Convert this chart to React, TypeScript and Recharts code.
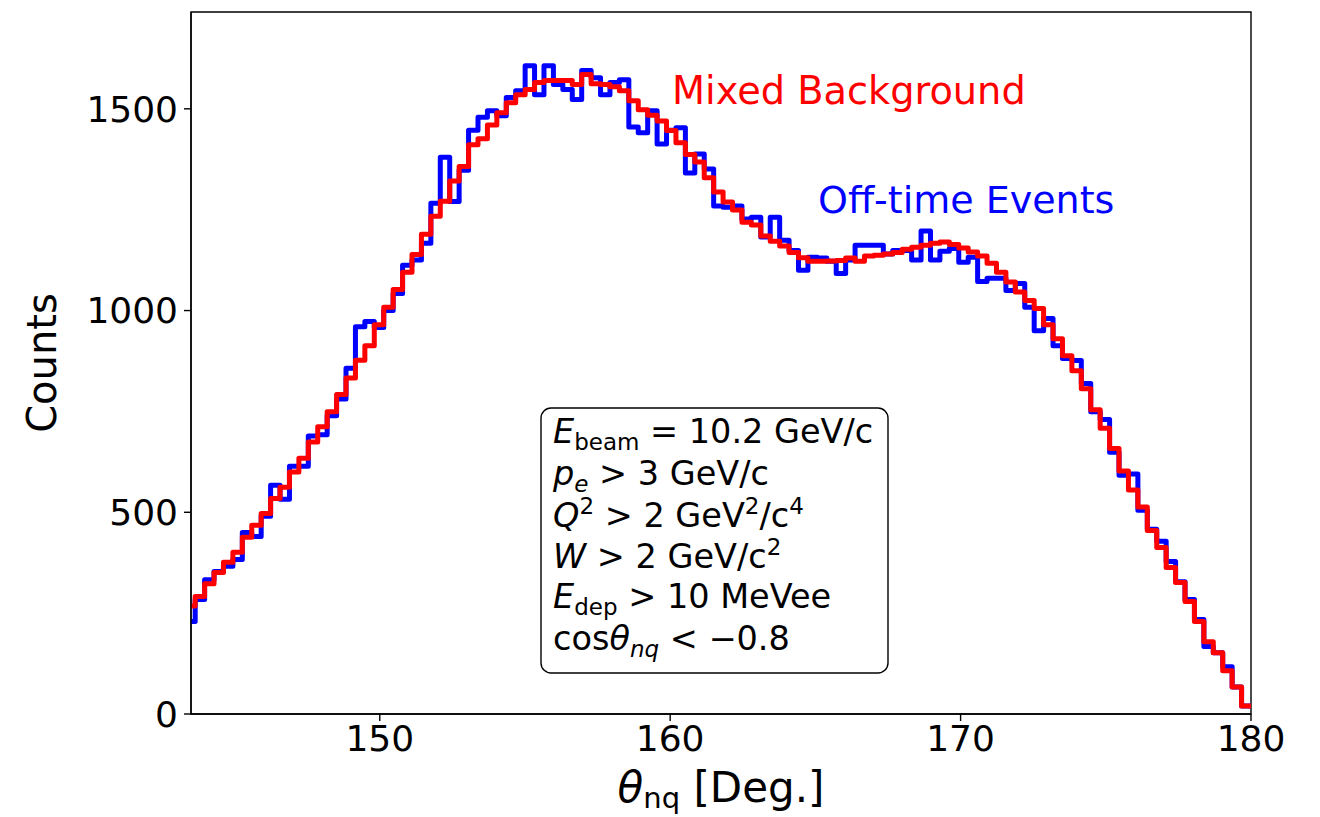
import React from "react";
import { LineChart, Line, XAxis, YAxis, ReferenceArea, Label } from "recharts";

// histogram binning: 112 full bins ending at 180 deg, plus one partial bin cut by the axis
const BIN_LO = 143.644;
const BIN_HI = 180;
const N_FULL_BINS = 112;

// counts per bin (first entry is the partial bin at the left edge)
const mixedBackground = [
  268, 291, 323, 351, 376, 401, 438, 468, 497, 534,
  562, 600, 634, 674, 712, 749, 792, 833, 877, 913,
  965, 1008, 1052, 1095, 1139, 1189, 1234, 1271, 1321, 1357,
  1411, 1426, 1460, 1490, 1515, 1535, 1548, 1565, 1570, 1570,
  1570, 1560, 1585, 1562, 1560, 1555, 1545, 1520, 1498, 1484,
  1470, 1446, 1416, 1387, 1368, 1329, 1294, 1269, 1249, 1219,
  1212, 1185, 1172, 1160, 1144, 1131, 1122, 1122, 1123, 1124,
  1130, 1122, 1135, 1137, 1140, 1144, 1152, 1157, 1162, 1167,
  1170, 1164, 1155, 1145, 1135, 1117, 1095, 1071, 1046, 1025,
  1005, 965, 930, 888, 851, 806, 754, 708, 658, 602,
  555, 513, 455, 413, 363, 326, 279, 229, 179, 152,
  107, 67, 20,
];

const offTimeEvents = [
  229, 284, 333, 353, 366, 383, 450, 440, 490, 567,
  532, 614, 614, 689, 692, 739, 781, 857, 960, 973,
  958, 1000, 1042, 1112, 1125, 1167, 1266, 1380, 1270, 1348,
  1447, 1479, 1495, 1483, 1528, 1545, 1607, 1535, 1607, 1560,
  1548, 1523, 1595, 1577, 1535, 1565, 1572, 1455, 1441, 1495,
  1413, 1447, 1453, 1341, 1388, 1351, 1259, 1256, 1259, 1227,
  1231, 1182, 1231, 1174, 1149, 1100, 1132, 1130, 1122, 1092,
  1125, 1162, 1162, 1162, 1140, 1149, 1149, 1125, 1197, 1125,
  1147, 1154, 1120, 1132, 1072, 1080, 1080, 1050, 1067, 1008,
  950, 980, 913, 881, 876, 819, 749, 730, 649, 592,
  595, 505, 458, 428, 378, 328, 284, 234, 167, 152,
  117, 67, 20,
];

const xTicks = [150, 160, 170, 180];
const yTicks = [0, 500, 1000, 1500];

const binW = (BIN_HI - BIN_LO) / N_FULL_BINS;
const data = mixedBackground.map((m, i) => ({
  x: BIN_LO + (i - 1) * binW,
  mixed: m,
  offtime: offTimeEvents[i],
}));
// closing point so the last step reaches 180
data.push({
  x: BIN_HI,
  mixed: mixedBackground[mixedBackground.length - 1],
  offtime: offTimeEvents[offTimeEvents.length - 1],
});

const FONT = "'DejaVu Sans', sans-serif";

function XTitle({ viewBox }: any) {
  const cx = viewBox.x + viewBox.width / 2;
  return (
    <text x={cx} y={viewBox.y + 88} textAnchor="middle" fontSize={42} fontFamily={FONT} fill="#000">
      <tspan fontStyle="italic">θ</tspan>
      <tspan fontSize={29} dy={6}>nq</tspan>
      <tspan dy={-6}> [Deg.]</tspan>
    </text>
  );
}

function YTitle({ viewBox }: any) {
  const cy = viewBox.y + viewBox.height / 2;
  return (
    <text
      x={56}
      y={cy}
      transform={`rotate(-90 56 ${cy})`}
      textAnchor="middle"
      fontSize={40}
      fontFamily={FONT}
      fill="#000"
    >
      Counts
    </text>
  );
}

function CutsBox() {
  const x = 553;
  const sub = { fontSize: 23 };
  return (
    <g fontFamily={FONT} fontSize={33.5} fill="#000">
      <rect x={541} y={408} width={347} height={265} rx={10} fill="#fff" stroke="#000" strokeWidth={1.4} />
      <text x={x} y={443}>
        <tspan fontStyle="italic">E</tspan>
        <tspan {...sub} dy={7}>beam</tspan>
        <tspan dy={-7}> = 10.2 GeV/c</tspan>
      </text>
      <text x={x} y={485}>
        <tspan fontStyle="italic">p</tspan>
        <tspan {...sub} fontStyle="italic" dy={7}>e</tspan>
        <tspan dy={-7}> &gt; 3 GeV/c</tspan>
      </text>
      <text x={x} y={527}>
        <tspan fontStyle="italic">Q</tspan>
        <tspan {...sub} dy={-13}>2</tspan>
        <tspan dy={13}> &gt; 2 GeV</tspan>
        <tspan {...sub} dy={-13}>2</tspan>
        <tspan dy={13}>/c</tspan>
        <tspan {...sub} dy={-13}>4</tspan>
      </text>
      <text x={x} y={568}>
        <tspan fontStyle="italic">W</tspan>
        <tspan> &gt; 2 GeV/c</tspan>
        <tspan {...sub} dy={-13}>2</tspan>
      </text>
      <text x={x} y={608}>
        <tspan fontStyle="italic">E</tspan>
        <tspan {...sub} dy={7}>dep</tspan>
        <tspan dy={-7}> &gt; 10 MeVee</tspan>
      </text>
      <text x={x} y={650}>
        <tspan>cos</tspan>
        <tspan fontStyle="italic">θ</tspan>
        <tspan {...sub} fontStyle="italic" dy={7}>nq</tspan>
        <tspan dy={-7}> &lt; −0.8</tspan>
      </text>
    </g>
  );
}

export default function App() {
  return (
    <div style={{ position: "absolute", left: 0, top: 0, width: 1320, height: 817, background: "#fff" }}>
      <LineChart width={1320} height={817} data={data} margin={{ top: 12, right: 69, bottom: 0, left: 0 }}>
        <XAxis
          dataKey="x"
          type="number"
          domain={[143.5, 180]}
          allowDataOverflow
          ticks={xTicks}
          height={103}
          tick={{ fontSize: 36, fill: "#000", fontFamily: FONT }}
          tickSize={7}
          tickMargin={4}
          tickLine={{ stroke: "#000", strokeWidth: 1.4 }}
          axisLine={{ stroke: "#000", strokeWidth: 1.4 }}
        >
          <Label content={<XTitle />} />
        </XAxis>
        <YAxis
          type="number"
          domain={[0, 1740]}
          allowDataOverflow
          ticks={yTicks}
          width={191}
          tick={{ fontSize: 36, fill: "#000", fontFamily: FONT }}
          tickSize={7}
          tickMargin={6}
          tickLine={{ stroke: "#000", strokeWidth: 1.4 }}
          axisLine={{ stroke: "#000", strokeWidth: 1.4 }}
        >
          <Label content={<YTitle />} />
        </YAxis>
        <ReferenceArea x1={143.5} x2={180} y1={0} y2={1740} fill="none" stroke="#000" strokeWidth={1.4} />
        <Line
          dataKey="offtime"
          type="stepAfter"
          stroke="#0000ff"
          strokeWidth={5}
          strokeLinejoin="round"
          dot={false}
          isAnimationActive={false}
        />
        <Line
          dataKey="mixed"
          type="stepAfter"
          stroke="#ff0000"
          strokeWidth={5}
          strokeLinejoin="round"
          dot={false}
          isAnimationActive={false}
        />
      </LineChart>
      <svg width={1320} height={817} style={{ position: "absolute", left: 0, top: 0, pointerEvents: "none" }}>
        <text x={672} y={104} fontSize={38.3} fontFamily={FONT} fill="#ff0000">
          Mixed Background
        </text>
        <text x={818} y={213} fontSize={38} fontFamily={FONT} fill="#0000ff">
          Off-time Events
        </text>
        <CutsBox />
      </svg>
    </div>
  );
}
